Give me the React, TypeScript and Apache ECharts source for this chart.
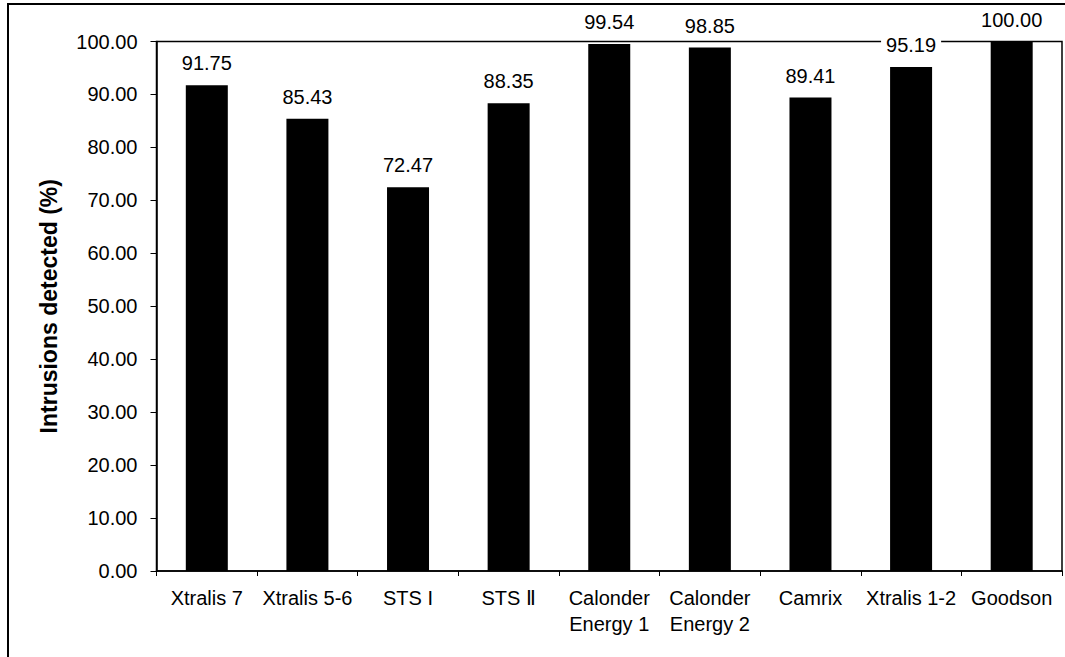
import React, { useEffect, useRef } from "react";
import * as echarts from "echarts";

const categories = [
  "Xtralis 7",
  "Xtralis 5-6",
  "STS I",
  "STS Ⅱ",
  "Calonder\nEnergy 1",
  "Calonder\nEnergy 2",
  "Camrix",
  "Xtralis 1-2",
  "Goodson",
];
const values = [91.75, 85.43, 72.47, 88.35, 99.54, 98.85, 89.41, 95.19, 100.0];

const FONT = "'Liberation Sans', Arial, sans-serif";

export default function App() {
  const ref = useRef<HTMLDivElement>(null);
  useEffect(() => {
    if (!ref.current) return;
    const chart = echarts.init(ref.current, null, { renderer: "svg" });
    chart.setOption({
      animation: false,
      backgroundColor: "#ffffff",
      textStyle: { fontFamily: FONT },
      grid: {
        left: 156.5,
        right: 3,
        top: 41.5,
        bottom: 86,
        show: true,
        borderColor: "#000",
        borderWidth: 1.5,
        backgroundColor: "transparent",
      },
      graphic: [
        {
          type: "rect",
          shape: { x: 8, y: 4, width: 1100, height: 720 },
          style: { fill: "none", stroke: "#000", lineWidth: 2 },
          silent: true,
          z: -1,
        },
      ],
      xAxis: {
        type: "category",
        data: categories,
        boundaryGap: true,
        axisLine: { lineStyle: { color: "#000", width: 1.5 } },
        axisTick: { show: true, length: 5, alignWithLabel: false, lineStyle: { color: "#000" } },
        axisLabel: {
          color: "#000",
          fontSize: 20,
          fontFamily: FONT,
          margin: 14,
          lineHeight: 26,
          interval: 0,
        },
      },
      yAxis: {
        type: "value",
        min: 0,
        max: 100,
        interval: 10,
        name: "Intrusions detected (%)",
        nameLocation: "middle",
        nameGap: 96,
        nameTextStyle: { color: "#000", fontSize: 23, fontWeight: "bold", fontFamily: FONT },
        axisLine: { show: true, lineStyle: { color: "#000", width: 1.5 } },
        axisTick: { show: true, length: 6, inside: false, lineStyle: { color: "#000" } },
        splitLine: { show: false },
        axisLabel: {
          color: "#000",
          fontSize: 20,
          fontFamily: FONT,
          margin: 19,
          formatter: (v: number) => v.toFixed(2),
        },
      },
      series: [
        {
          type: "bar",
          data: values,
          barWidth: 42,
          itemStyle: { color: "#000" },
          label: {
            show: true,
            position: "top",
            distance: 11,
            color: "#000",
            fontSize: 20,
            fontFamily: FONT,
            backgroundColor: "#fff",
            padding: [1, 5],
            formatter: (p: any) => (p.value as number).toFixed(2),
          },
          z: 5,
        },
      ],
    });
    return () => chart.dispose();
  }, []);
  return (
    <div
      ref={ref}
      style={{ position: "absolute", left: 0, top: 0, width: 1065, height: 657 }}
    />
  );
}
